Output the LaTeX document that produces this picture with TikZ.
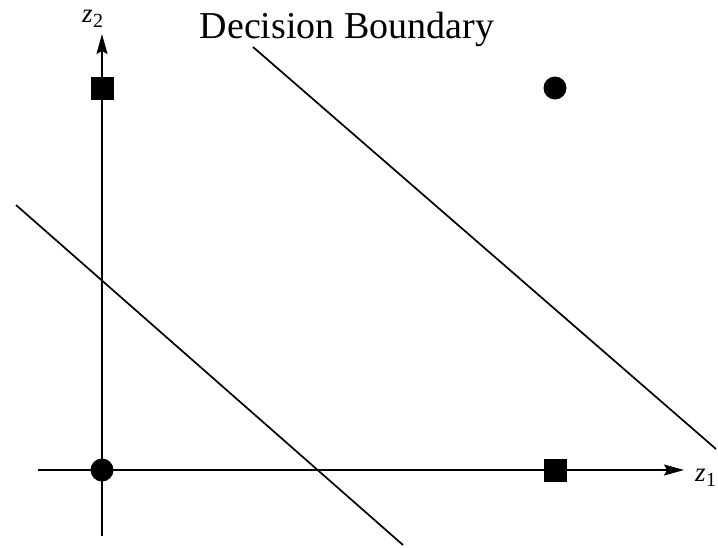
\documentclass[tikz,border=0pt]{standalone}
\usepackage{fontspec}
\setmainfont{Liberation Serif}
\usetikzlibrary{arrows.meta}
\newcommand{\zlab}[1]{\fontsize{27}{29}\selectfont\textit{z}\kern0.5pt\raisebox{-5pt}{\fontsize{20}{22}\selectfont #1}}
\begin{document}
\begin{tikzpicture}[x=1pt,y=-1pt,
  axis/.style={line width=1.3pt,-{Stealth[length=20pt,width=11pt,inset=3pt]}},
  boundary/.style={line width=1.7pt},
  sqmark/.style={fill=black,minimum size=23pt,inner sep=0pt,draw=none},
  dotmark/.style={circle,fill=black,minimum size=23pt,inner sep=0pt,draw=none},
  lab/.style={inner sep=0pt,anchor=west}]
\useasboundingbox (0,0) rectangle (718,547);
% axes
\coordinate (xs) at (38,470);
\coordinate (xe) at (684,470);
\coordinate (ys) at (102,536);
\coordinate (ye) at (102,34);
\draw[axis] (xs) -- (xe);
\draw[axis] (ys) -- (ye);
\node[lab] (z1) at (695,478) {\zlab{1}};
\node[lab] (z2) at (82,19) {\zlab{2}};
% decision boundaries
\coordinate (a1) at (16,205);
\coordinate (a2) at (403,545);
\coordinate (b1) at (253,47);
\coordinate (b2) at (716,449);
\draw[boundary] (a1) -- (a2);
\draw[boundary] (b1) -- (b2);
% markers
\node[sqmark] (s1) at (102,88) {};
\node[sqmark] (s2) at (555,470) {};
\node[dotmark] (c1) at (102,470) {};
\node[dotmark] (c2) at (555,88) {};
% title
\node[inner sep=0pt,anchor=base,font=\fontsize{38}{40}\selectfont] (title) at (347,38) {Decision Boundary};
\end{tikzpicture}
\end{document}
